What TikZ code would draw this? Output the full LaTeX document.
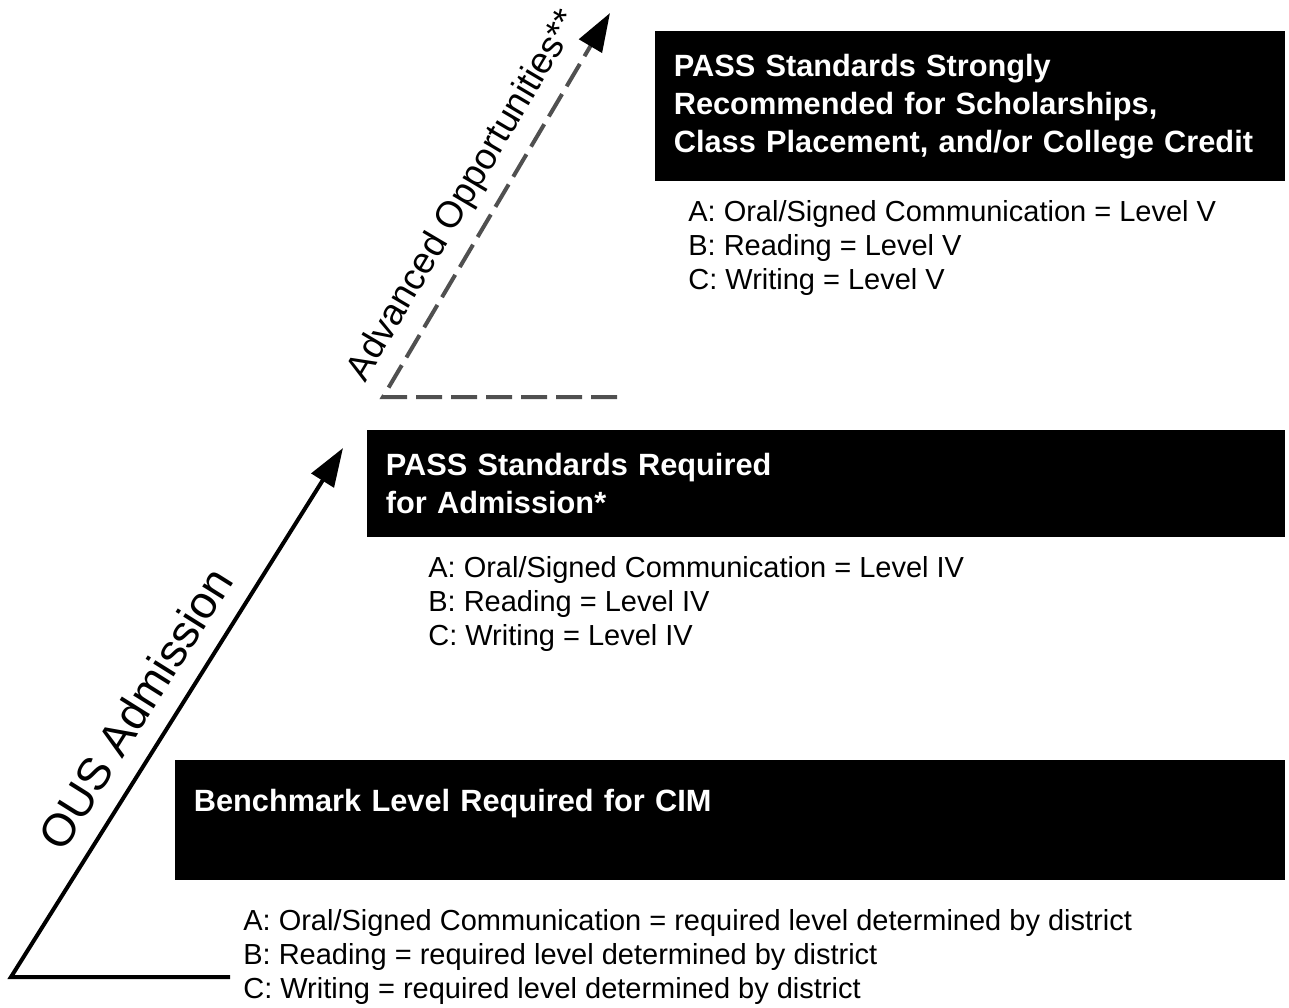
\documentclass[tikz,border=0pt]{standalone}
\usepackage{fontspec}
\setmainfont{Liberation Sans}
\usetikzlibrary{arrows.meta,positioning}
\definecolor{dashgrey}{HTML}{505050}

\tikzset{
  banner/.style={fill=black, text=white, align=left, anchor=north west,
    inner xsep=0.37cm, inner ysep=0pt,
    font=\fontsize{17.5}{21.7}\selectfont\bfseries},
  levels/.style={align=left, anchor=north west, inner sep=0pt,
    font=\fontsize{16.5}{19.5}\selectfont},
  climb/.style={line width=0.08cm, -{Triangle[length=0.77cm, width=0.52cm]}},
  climbdash/.style={climb, draw=dashgrey, dash pattern=on 0.52cm off 0.18cm,
    -{Triangle[length=0.77cm, width=0.52cm, color=black]}},
  slopelabel/.style={sloped, above, text=black},
}

\begin{document}
\begin{tikzpicture}[x=0.02cm, y=-0.02cm]
\useasboundingbox (0,0) rectangle (1289,1008);

% the three levels
\node[banner, minimum width=12.6cm, minimum height=3cm, text width=11.86cm] (strong) at (655,31)
  {PASS Standards Strongly\\Recommended for Scholarships,\\Class Placement, and/or College Credit};
\node[levels] (strongList) at (688,200)
  {A: Oral/Signed Communication = Level V\\B: Reading = Level V\\C: Writing = Level V};

\node[banner, minimum width=18.36cm, minimum height=2.14cm, text width=17.62cm,
  font=\fontsize{17.5}{21.5}\selectfont\bfseries] (admit) at (367,430)
  {PASS Standards Required\\for Admission*};
\node[levels] (admitList) at (428,556)
  {A: Oral/Signed Communication = Level IV\\B: Reading = Level IV\\C: Writing = Level IV};

\node[banner, minimum width=22.2cm, minimum height=2.4cm, text width=21.46cm,
  text height=12.5pt, text depth=22.5pt] (cim) at (175,760)
  {Benchmark Level Required for CIM};
\node[levels] (cimList) at (243,909)
  {A: Oral/Signed Communication = required level determined by district\\B: Reading = required level determined by district\\C: Writing = required level determined by district};

% arrows
\coordinate (ousFoot) at (230,977);
\coordinate (ousCorner) at (11,977);
\coordinate (ousTip) at (343,448);
\draw[climb] (ousFoot) -- (ousCorner) -- node[slopelabel, pos=0.47, inner sep=10.7pt,
  font=\fontsize{26}{30}\selectfont] (ousLabel) {OUS Admission} (ousTip);

\coordinate (advFoot) at (617,397);
\coordinate (advCorner) at (383,397);
\coordinate (advTip) at (610,13);
\draw[climbdash] (advFoot) -- (advCorner) -- node[slopelabel, pos=0.48, inner sep=7.3pt,
  font=\fontsize{21}{25}\selectfont] (advLabel) {Advanced Opportunities**} (advTip);
\end{tikzpicture}
\end{document}
